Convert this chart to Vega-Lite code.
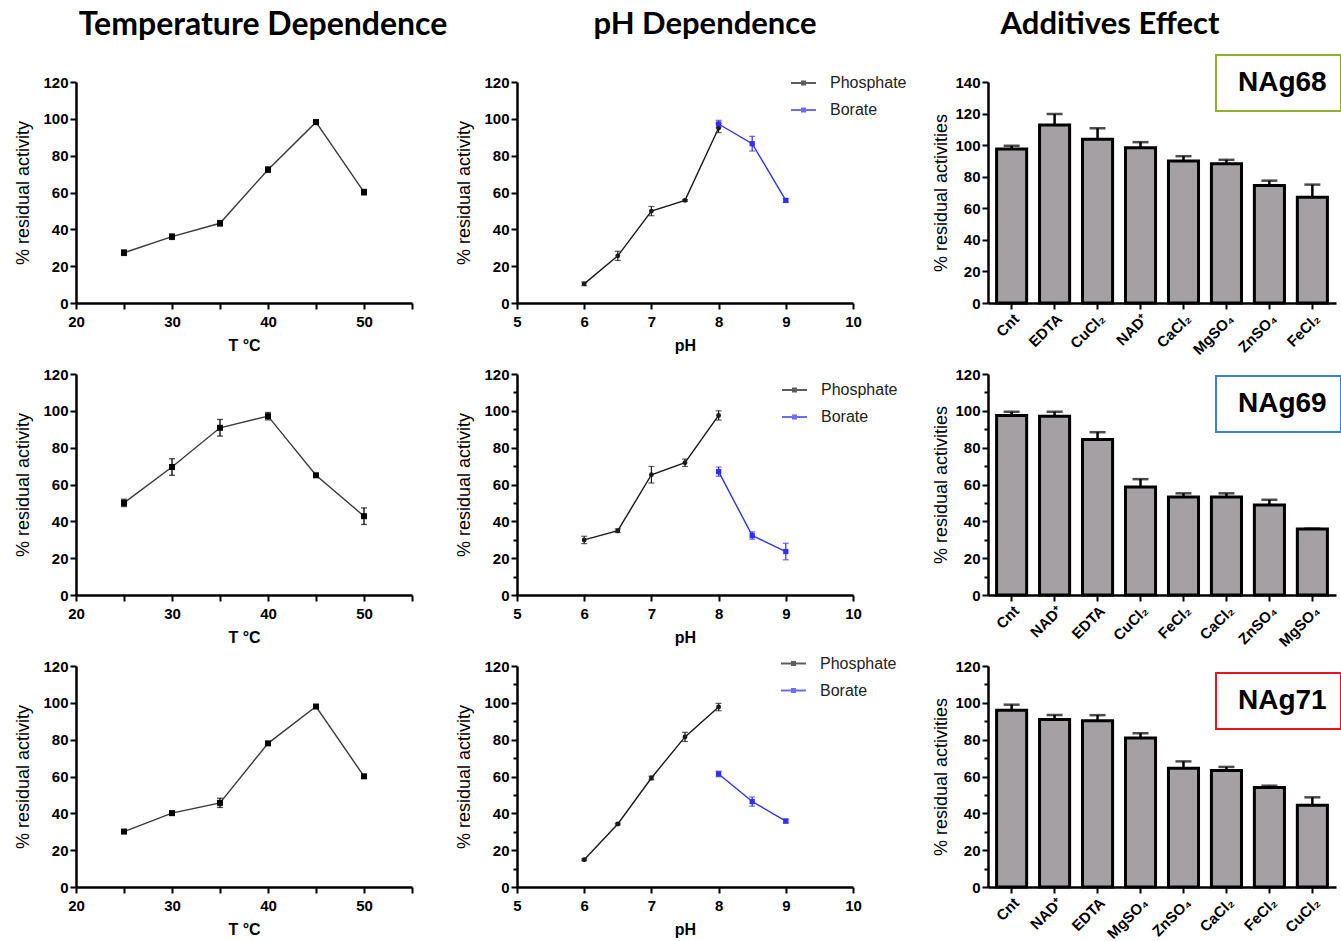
{
"$schema": "https://vega.github.io/schema/vega-lite/v6.json",
"autosize": {"type": "pad"},
"padding": {"left": 14, "top": 8, "right": 0, "bottom": 0},
"background": "white",
"columns": 3,
"spacing": {"row": 71, "column": 105},
"bounds": "flush",
"align": "each",
"resolve": {"scale": {"color": "independent", "shape": "independent"}, "legend": {"color": "independent", "shape": "independent"}},
"datasets": {
 "temp1": [{"t":25,"v":27.3,"e":1.5},{"t":30,"v":36,"e":1.5},{"t":35,"v":43.3,"e":1.5},{"t":40,"v":72.4,"e":1.5},{"t":45,"v":98.2,"e":1.2},{"t":50,"v":60.2,"e":1.5}],
 "temp2": [{"t":25,"v":50,"e":2},{"t":30,"v":69.5,"e":4.5},{"t":35,"v":90.8,"e":4.5},{"t":40,"v":97.1,"e":2},{"t":45,"v":65,"e":0.5},{"t":50,"v":42.8,"e":4.5}],
 "temp3": [{"t":25,"v":30.1,"e":0.5},{"t":30,"v":40.1,"e":1},{"t":35,"v":45.7,"e":2.5},{"t":40,"v":78,"e":0.5},{"t":45,"v":98,"e":1},{"t":50,"v":60.1,"e":0.5}],
 "ph1": [{"buffer":"Phosphate","ph":6,"v":10.4,"e":1},{"buffer":"Phosphate","ph":6.5,"v":25.6,"e":2.5},{"buffer":"Phosphate","ph":7,"v":49.9,"e":2.5},{"buffer":"Phosphate","ph":7.5,"v":55.7,"e":0.5},{"buffer":"Phosphate","ph":8,"v":95,"e":2.5},{"buffer":"Borate","ph":8,"v":97.2,"e":2},{"buffer":"Borate","ph":8.5,"v":86.5,"e":4},{"buffer":"Borate","ph":9,"v":55.7,"e":1}],
 "ph2": [{"buffer":"Phosphate","ph":6,"v":29.9,"e":2},{"buffer":"Phosphate","ph":6.5,"v":34.9,"e":1},{"buffer":"Phosphate","ph":7,"v":65.3,"e":4.5},{"buffer":"Phosphate","ph":7.5,"v":71.8,"e":2},{"buffer":"Phosphate","ph":8,"v":97.5,"e":2.5},{"buffer":"Borate","ph":8,"v":67,"e":2.5},{"buffer":"Borate","ph":8.5,"v":32.3,"e":2},{"buffer":"Borate","ph":9,"v":23.6,"e":4.5}],
 "ph3": [{"buffer":"Phosphate","ph":6,"v":14.8,"e":0.5},{"buffer":"Phosphate","ph":6.5,"v":34.2,"e":0.5},{"buffer":"Phosphate","ph":7,"v":59.2,"e":1},{"buffer":"Phosphate","ph":7.5,"v":81.5,"e":2.5},{"buffer":"Phosphate","ph":8,"v":97.7,"e":2},{"buffer":"Borate","ph":8,"v":61.4,"e":1.5},{"buffer":"Borate","ph":8.5,"v":46.4,"e":2.5},{"buffer":"Borate","ph":9,"v":35.8,"e":1}],
 "bar1": [{"strain":"NAg68","a":"Cnt","v":97.6,"e":2},{"strain":"NAg68","a":"EDTA","v":112.7,"e":7},{"strain":"NAg68","a":"CuCl₂","v":103.7,"e":7},{"strain":"NAg68","a":"NAD⁺","v":98.4,"e":3.5},{"strain":"NAg68","a":"CaCl₂","v":90,"e":3},{"strain":"NAg68","a":"MgSO₄","v":88.2,"e":2.5},{"strain":"NAg68","a":"ZnSO₄","v":74.5,"e":3},{"strain":"NAg68","a":"FeCl₂","v":67,"e":8}],
 "bar2": [{"strain":"NAg69","a":"Cnt","v":97.5,"e":2},{"strain":"NAg69","a":"NAD⁺","v":97,"e":2.5},{"strain":"NAg69","a":"EDTA","v":84.4,"e":4},{"strain":"NAg69","a":"CuCl₂","v":58.6,"e":4.3},{"strain":"NAg69","a":"FeCl₂","v":53.2,"e":2},{"strain":"NAg69","a":"CaCl₂","v":53.2,"e":2},{"strain":"NAg69","a":"ZnSO₄","v":48.9,"e":2.8},{"strain":"NAg69","a":"MgSO₄","v":35.9,"e":0}],
 "bar3": [{"strain":"NAg71","a":"Cnt","v":96,"e":3},{"strain":"NAg71","a":"NAD⁺","v":90.9,"e":2.5},{"strain":"NAg71","a":"EDTA","v":90.3,"e":3},{"strain":"NAg71","a":"MgSO₄","v":80.9,"e":2.6},{"strain":"NAg71","a":"ZnSO₄","v":64.5,"e":3.7},{"strain":"NAg71","a":"CaCl₂","v":63.2,"e":2},{"strain":"NAg71","a":"FeCl₂","v":54,"e":1},{"strain":"NAg71","a":"CuCl₂","v":44.4,"e":4.3}]
},
"concat": [
 {
  "width": 336, "height": 221,
  "title": {"text": "Temperature Dependence", "font": "Lato", "fontSize": 32, "fontWeight": "bold", "color": "black", "anchor": "middle", "frame": "group", "dx": 19, "offset": 33},
  "data": {"name": "temp1"},
  "encoding": {
   "x": {"field": "t", "type": "quantitative", "scale": {"domain": [20, 55], "nice": false, "zero": false}, "axis": {"title": "T °C", "values": [20,25,30,35,40,45,50,55], "labelExpr": "datum.value % 10 === 0 ? datum.label : ''"}},
   "y": {"field": "v", "type": "quantitative", "scale": {"domain": [0, 120], "nice": false}, "axis": {"title": "% residual activity", "values": [0,20,40,60,80,100,120]}}
  },
  "layer": [
   {"mark": {"type": "errorbar", "ticks": {"size": 6, "thickness": 1.3}, "thickness": 1.3, "color": "black"}, "encoding": {"yError": {"field": "e"}}},
   {"mark": {"type": "line", "color": "#3a3a3a", "strokeWidth": 1.4}, "encoding": {}},
   {"mark": {"type": "point", "shape": "square", "filled": true, "size": 36, "color": "black", "opacity": 1}, "encoding": {}}
  ]
 },
 {
  "width": 366, "height": 221,
  "title": {"text": "pH Dependence", "font": "Lato", "fontSize": 31, "fontWeight": "bold", "color": "black", "anchor": "middle", "frame": "group", "dx": 5, "offset": 29},
  "data": {"name": "ph1"},
  "encoding": {
   "x": {"field": "ph", "type": "quantitative", "scale": {"domain": [5, 10], "range": [0, 336], "nice": false, "zero": false}, "axis": {"title": "pH", "format": "d", "values": [5,5.5,6,6.5,7,7.5,8,8.5,9,9.5,10], "labelExpr": "datum.value % 1 === 0 ? datum.label : ''", "tickSize": {"condition": {"test": "datum.value % 1 !== 0", "value": 4}, "value": 6}}},
   "y": {"field": "v", "type": "quantitative", "scale": {"domain": [0, 120], "nice": false}, "axis": {"title": "% residual activity", "values": [0,20,40,60,80,100,120]}},
   "color": {"field": "buffer", "type": "nominal", "scale": {"domain": ["Phosphate", "Borate"], "range": ["#1a1a1a", "#3030ee"]}, "legend": {"orient": "none", "legendX": 273, "legendY": -12.5, "title": null, "symbolType": "M-1,0H1M-0.12,-0.12H0.12V0.12H-0.12Z", "symbolSize": 625, "symbolStrokeWidth": 2, "labelFont": "Liberation Sans", "labelFontSize": 16, "labelFontWeight": "normal", "labelColor": "#222222", "labelOffset": 13, "rowPadding": 5}}
  },
  "layer": [
   {"mark": {"type": "errorbar", "ticks": {"size": 6, "thickness": 1.2}, "thickness": 1.2}, "encoding": {"yError": {"field": "e"}}},
   {"mark": {"type": "line", "strokeWidth": 1.4}, "encoding": {}},
   {"transform": [{"filter": "datum.buffer === 'Phosphate'"}], "mark": {"type": "point", "shape": "circle", "filled": true, "opacity": 1, "size": 24}, "encoding": {}},
   {"transform": [{"filter": "datum.buffer === 'Borate'"}], "mark": {"type": "point", "shape": "square", "filled": true, "opacity": 1, "size": 28}, "encoding": {}}
  ]
 },
 {
  "width": 348, "height": 221,
  "title": {"text": "Additives Effect", "font": "Lato", "fontSize": 31, "fontWeight": "bold", "color": "black", "anchor": "middle", "frame": "group", "dx": -52, "offset": 13},
  "data": {"name": "bar1"},
  "encoding": {
   "x": {"field": "a", "type": "nominal", "sort": null, "scale": {"paddingInner": 0.3, "paddingOuter": 0.2}, "axis": {"title": null, "labelAngle": -45, "labelFontSize": 15, "labelPadding": 2}},
   "y": {"field": "v", "type": "quantitative", "scale": {"domain": [0, 140], "nice": false}, "axis": {"title": "% residual activities", "values": [0,20,40,60,80,100,120,140], "titlePadding": 4}}
  },
  "layer": [
   {"mark": {"type": "errorbar", "ticks": {"size": 16, "thickness": 2.5}, "thickness": 2.5, "color": "black"}, "encoding": {"yError": {"field": "e"}}},
   {"mark": {"type": "bar", "fill": "#a4a0a4", "stroke": "black", "strokeWidth": 3}, "encoding": {}},
   {"mark": {"type": "point", "opacity": 0}, "encoding": {"color": {"field": "strain", "type": "nominal", "scale": {"range": ["black"]}, "legend": {"orient": "none", "legendX": 228, "legendY": -27, "title": null, "padding": 14, "strokeColor": "#8db128", "symbolOpacity": 0, "symbolSize": 1, "labelOffset": -20, "labelFont": "Liberation Sans", "labelFontSize": 28, "labelFontWeight": "bold", "labelColor": "black"}}}}
  ]
 },
 {
  "width": 336, "height": 221,
  "data": {"name": "temp2"},
  "encoding": {
   "x": {"field": "t", "type": "quantitative", "scale": {"domain": [20, 55], "nice": false, "zero": false}, "axis": {"title": "T °C", "values": [20,25,30,35,40,45,50,55], "labelExpr": "datum.value % 10 === 0 ? datum.label : ''"}},
   "y": {"field": "v", "type": "quantitative", "scale": {"domain": [0, 120], "nice": false}, "axis": {"title": "% residual activity", "values": [0,20,40,60,80,100,120]}}
  },
  "layer": [
   {"mark": {"type": "errorbar", "ticks": {"size": 6, "thickness": 1.3}, "thickness": 1.3, "color": "black"}, "encoding": {"yError": {"field": "e"}}},
   {"mark": {"type": "line", "color": "#3a3a3a", "strokeWidth": 1.4}, "encoding": {}},
   {"mark": {"type": "point", "shape": "square", "filled": true, "size": 36, "color": "black", "opacity": 1}, "encoding": {}}
  ]
 },
 {
  "width": 366, "height": 221,
  "data": {"name": "ph2"},
  "encoding": {
   "x": {"field": "ph", "type": "quantitative", "scale": {"domain": [5, 10], "range": [0, 336], "nice": false, "zero": false}, "axis": {"title": "pH", "format": "d", "values": [5,5.5,6,6.5,7,7.5,8,8.5,9,9.5,10], "labelExpr": "datum.value % 1 === 0 ? datum.label : ''", "tickSize": {"condition": {"test": "datum.value % 1 !== 0", "value": 4}, "value": 6}}},
   "y": {"field": "v", "type": "quantitative", "scale": {"domain": [0, 120], "nice": false}, "axis": {"title": "% residual activity", "values": [0,10,20,30,40,50,60,70,80,90,100,110,120], "labelExpr": "datum.value % 20 === 0 ? datum.label : ''", "tickSize": {"condition": {"test": "datum.value % 20 !== 0", "value": 4}, "value": 6}}},
   "color": {"field": "buffer", "type": "nominal", "scale": {"domain": ["Phosphate", "Borate"], "range": ["#1a1a1a", "#3030ee"]}, "legend": {"orient": "none", "legendX": 264, "legendY": 2.5, "title": null, "symbolType": "M-1,0H1M-0.12,-0.12H0.12V0.12H-0.12Z", "symbolSize": 625, "symbolStrokeWidth": 2, "labelFont": "Liberation Sans", "labelFontSize": 16, "labelFontWeight": "normal", "labelColor": "#222222", "labelOffset": 13, "rowPadding": 5}}
  },
  "layer": [
   {"mark": {"type": "errorbar", "ticks": {"size": 6, "thickness": 1.2}, "thickness": 1.2}, "encoding": {"yError": {"field": "e"}}},
   {"mark": {"type": "line", "strokeWidth": 1.4}, "encoding": {}},
   {"transform": [{"filter": "datum.buffer === 'Phosphate'"}], "mark": {"type": "point", "shape": "circle", "filled": true, "opacity": 1, "size": 24}, "encoding": {}},
   {"transform": [{"filter": "datum.buffer === 'Borate'"}], "mark": {"type": "point", "shape": "square", "filled": true, "opacity": 1, "size": 28}, "encoding": {}}
  ]
 },
 {
  "width": 348, "height": 221,
  "data": {"name": "bar2"},
  "encoding": {
   "x": {"field": "a", "type": "nominal", "sort": null, "scale": {"paddingInner": 0.3, "paddingOuter": 0.2}, "axis": {"title": null, "labelAngle": -45, "labelFontSize": 15, "labelPadding": 2}},
   "y": {"field": "v", "type": "quantitative", "scale": {"domain": [0, 120], "nice": false}, "axis": {"title": "% residual activities", "values": [0,10,20,30,40,50,60,70,80,90,100,110,120], "labelExpr": "datum.value % 20 === 0 ? datum.label : ''", "tickSize": {"condition": {"test": "datum.value % 20 !== 0", "value": 4}, "value": 6}, "titlePadding": 4}}
  },
  "layer": [
   {"mark": {"type": "errorbar", "ticks": {"size": 16, "thickness": 2.5}, "thickness": 2.5, "color": "black"}, "encoding": {"yError": {"field": "e"}}},
   {"mark": {"type": "bar", "fill": "#a4a0a4", "stroke": "black", "strokeWidth": 3}, "encoding": {}},
   {"mark": {"type": "point", "opacity": 0}, "encoding": {"color": {"field": "strain", "type": "nominal", "scale": {"range": ["black"]}, "legend": {"orient": "none", "legendX": 228, "legendY": 2, "title": null, "padding": 14, "strokeColor": "#3f7fd0", "symbolOpacity": 0, "symbolSize": 1, "labelOffset": -20, "labelFont": "Liberation Sans", "labelFontSize": 28, "labelFontWeight": "bold", "labelColor": "black"}}}}
  ]
 },
 {
  "width": 336, "height": 221,
  "data": {"name": "temp3"},
  "encoding": {
   "x": {"field": "t", "type": "quantitative", "scale": {"domain": [20, 55], "nice": false, "zero": false}, "axis": {"title": "T °C", "values": [20,25,30,35,40,45,50,55], "labelExpr": "datum.value % 10 === 0 ? datum.label : ''"}},
   "y": {"field": "v", "type": "quantitative", "scale": {"domain": [0, 120], "nice": false}, "axis": {"title": "% residual activity", "values": [0,20,40,60,80,100,120]}}
  },
  "layer": [
   {"mark": {"type": "errorbar", "ticks": {"size": 6, "thickness": 1.3}, "thickness": 1.3, "color": "black"}, "encoding": {"yError": {"field": "e"}}},
   {"mark": {"type": "line", "color": "#3a3a3a", "strokeWidth": 1.4}, "encoding": {}},
   {"mark": {"type": "point", "shape": "square", "filled": true, "size": 36, "color": "black", "opacity": 1}, "encoding": {}}
  ]
 },
 {
  "width": 366, "height": 221,
  "data": {"name": "ph3"},
  "encoding": {
   "x": {"field": "ph", "type": "quantitative", "scale": {"domain": [5, 10], "range": [0, 336], "nice": false, "zero": false}, "axis": {"title": "pH", "format": "d", "values": [5,5.5,6,6.5,7,7.5,8,8.5,9,9.5,10], "labelExpr": "datum.value % 1 === 0 ? datum.label : ''", "tickSize": {"condition": {"test": "datum.value % 1 !== 0", "value": 4}, "value": 6}}},
   "y": {"field": "v", "type": "quantitative", "scale": {"domain": [0, 120], "nice": false}, "axis": {"title": "% residual activity", "values": [0,10,20,30,40,50,60,70,80,90,100,110,120], "labelExpr": "datum.value % 20 === 0 ? datum.label : ''", "tickSize": {"condition": {"test": "datum.value % 20 !== 0", "value": 4}, "value": 6}}},
   "color": {"field": "buffer", "type": "nominal", "scale": {"domain": ["Phosphate", "Borate"], "range": ["#1a1a1a", "#3030ee"]}, "legend": {"orient": "none", "legendX": 263, "legendY": -16, "title": null, "symbolType": "M-1,0H1M-0.12,-0.12H0.12V0.12H-0.12Z", "symbolSize": 625, "symbolStrokeWidth": 2, "labelFont": "Liberation Sans", "labelFontSize": 16, "labelFontWeight": "normal", "labelColor": "#222222", "labelOffset": 13, "rowPadding": 5}}
  },
  "layer": [
   {"mark": {"type": "errorbar", "ticks": {"size": 6, "thickness": 1.2}, "thickness": 1.2}, "encoding": {"yError": {"field": "e"}}},
   {"mark": {"type": "line", "strokeWidth": 1.4}, "encoding": {}},
   {"transform": [{"filter": "datum.buffer === 'Phosphate'"}], "mark": {"type": "point", "shape": "circle", "filled": true, "opacity": 1, "size": 24}, "encoding": {}},
   {"transform": [{"filter": "datum.buffer === 'Borate'"}], "mark": {"type": "point", "shape": "square", "filled": true, "opacity": 1, "size": 28}, "encoding": {}}
  ]
 },
 {
  "width": 348, "height": 221,
  "data": {"name": "bar3"},
  "encoding": {
   "x": {"field": "a", "type": "nominal", "sort": null, "scale": {"paddingInner": 0.3, "paddingOuter": 0.2}, "axis": {"title": null, "labelAngle": -45, "labelFontSize": 15, "labelPadding": 2}},
   "y": {"field": "v", "type": "quantitative", "scale": {"domain": [0, 120], "nice": false}, "axis": {"title": "% residual activities", "values": [0,10,20,30,40,50,60,70,80,90,100,110,120], "labelExpr": "datum.value % 20 === 0 ? datum.label : ''", "tickSize": {"condition": {"test": "datum.value % 20 !== 0", "value": 4}, "value": 6}, "titlePadding": 4}}
  },
  "layer": [
   {"mark": {"type": "errorbar", "ticks": {"size": 16, "thickness": 2.5}, "thickness": 2.5, "color": "black"}, "encoding": {"yError": {"field": "e"}}},
   {"mark": {"type": "bar", "fill": "#a4a0a4", "stroke": "black", "strokeWidth": 3}, "encoding": {}},
   {"mark": {"type": "point", "opacity": 0}, "encoding": {"color": {"field": "strain", "type": "nominal", "scale": {"range": ["black"]}, "legend": {"orient": "none", "legendX": 228, "legendY": 7, "title": null, "padding": 14, "strokeColor": "#e8141c", "symbolOpacity": 0, "symbolSize": 1, "labelOffset": -20, "labelFont": "Liberation Sans", "labelFontSize": 28, "labelFontWeight": "bold", "labelColor": "black"}}}}
  ]
 }
],
"config": {
 "view": {"stroke": null},
 "legend": {"strokeWidth": 2},
 "axis": {"domainColor": "black", "domainWidth": 2.5, "tickColor": "black", "tickWidth": 2, "tickSize": 6, "labelFont": "Liberation Sans", "labelFontSize": 15, "labelFontWeight": "bold", "labelColor": "black", "labelPadding": 2, "labelFlush": false, "labelOverlap": false, "titleFont": "Liberation Sans", "titleFontSize": 18, "titleColor": "black", "grid": false},
 "axisX": {"labelPadding": 5, "titleFontWeight": "bold", "titleFontSize": 16, "titlePadding": 8},
 "axisY": {"titleFontWeight": "normal", "titlePadding": 10}
}
}
